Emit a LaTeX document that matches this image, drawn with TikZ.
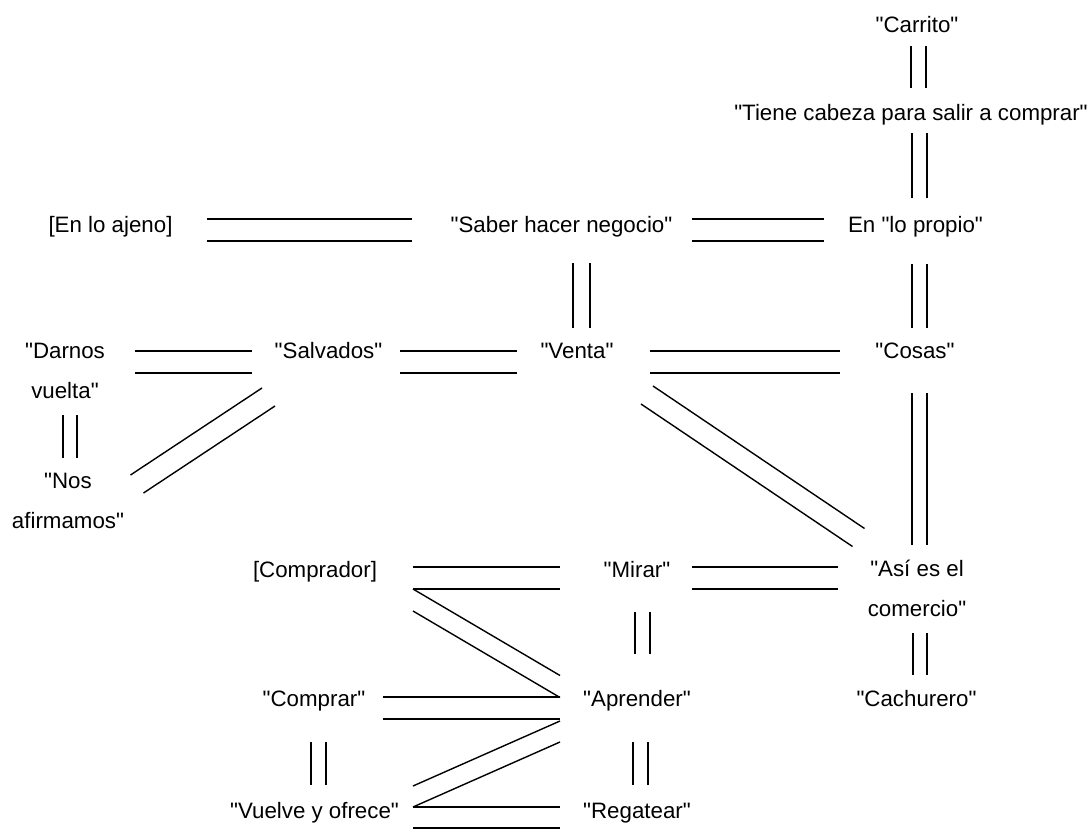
\documentclass[tikz,border=0pt]{standalone}
\usepackage{fontspec}
\setmainfont{Liberation Sans}[Ligatures=TeXOff]
\usetikzlibrary{calc}
\tikzset{
  lbl/.style={inner sep=0pt, outer sep=0pt, anchor=base, font=\fontsize{22.3}{40}\selectfont},
  lbltwo/.style={lbl, align=center},
  link/.style={line width=1.4pt, draw=black, line cap=butt},
}
\newcommand\twinlink[3]{%
  \draw[link] ($(#1)+(#3)$) -- ($(#2)+(#3)$);
  \draw[link] ($(#1)-(#3)$) -- ($(#2)-(#3)$);}
\begin{document}
\begin{tikzpicture}[x=1pt,y=-1pt]
\useasboundingbox[fill=white] (0,0) rectangle (1091,829);
% ---------- nodes ----------
\node[lbl] (carrito) at (917,33) {"Carrito"};
\node[lbl] (tiene) at (911,121) {"Tiene cabeza para salir a comprar"};
\node[lbl] (ajeno) at (110.5,232) {[En lo ajeno]};
\node[lbl] (saber) at (561.5,232) {"Saber hacer negocio"};
\node[lbl] (propio) at (915.5,232) {En "lo propio"};
\node[lbltwo] (darnos) at (65,398) {"Darnos\\vuelta"};
\node[lbl] (salvados) at (328.5,358) {"Salvados"};
\node[lbl] (venta) at (577,358) {"Venta"};
\node[lbl] (cosas) at (915,358) {"Cosas"};
\node[lbltwo] (nos) at (68,528) {"Nos\\afirmamos"};
\node[lbl] (comprador) at (315,577) {[Comprador]};
\node[lbl] (mirar) at (637,577) {"Mirar"};
\node[lbltwo] (asi) at (917,616) {"Así es el\\comercio"};
\node[lbl] (comprar) at (314,706) {"Comprar"};
\node[lbl] (aprender) at (637,706) {"Aprender"};
\node[lbl] (cachurero) at (916.5,706) {"Cachurero"};
\node[lbl] (vuelve) at (314.5,818) {"Vuelve y ofrece"};
\node[lbl] (regatear) at (637,818) {"Regatear"};
% ---------- connector ends ----------
\coordinate (ajeno-saber-a) at (207,230);   \coordinate (ajeno-saber-b) at (412,230);
\coordinate (saber-propio-a) at (692,230);  \coordinate (saber-propio-b) at (824,230);
\coordinate (darnos-salv-a) at (135,362);   \coordinate (darnos-salv-b) at (252,362);
\coordinate (salv-venta-a) at (400,362);    \coordinate (salv-venta-b) at (517,362);
\coordinate (venta-cosas-a) at (650,362);   \coordinate (venta-cosas-b) at (840,362);
\coordinate (compr-mirar-a) at (413,578);   \coordinate (compr-mirar-b) at (560,578);
\coordinate (mirar-asi-a) at (692,578);     \coordinate (mirar-asi-b) at (838,578);
\coordinate (comprar-apr-a) at (383,708);   \coordinate (comprar-apr-b) at (560,708);
\coordinate (vuelve-reg-a) at (413,817.5);  \coordinate (vuelve-reg-b) at (560,817.5);
\coordinate (carrito-tiene-a) at (918.5,46);  \coordinate (carrito-tiene-b) at (918.5,88);
\coordinate (tiene-propio-a) at (919.5,133);  \coordinate (tiene-propio-b) at (919.5,198);
\coordinate (saber-venta-a) at (581.5,263);   \coordinate (saber-venta-b) at (581.5,328);
\coordinate (propio-cosas-a) at (919.5,264);  \coordinate (propio-cosas-b) at (919.5,328);
\coordinate (cosas-asi-a) at (919.5,393);     \coordinate (cosas-asi-b) at (919.5,545);
\coordinate (darnos-nos-a) at (70,415);       \coordinate (darnos-nos-b) at (70,458);
\coordinate (mirar-apr-a) at (642.5,612);     \coordinate (mirar-apr-b) at (642.5,654);
\coordinate (asi-cach-a) at (920,633);        \coordinate (asi-cach-b) at (920,675);
\coordinate (apr-reg-a) at (640.5,742);       \coordinate (apr-reg-b) at (640.5,785);
\coordinate (comprar-vuelve-a) at (318.5,742); \coordinate (comprar-vuelve-b) at (318.5,785);
\coordinate (salv-nos-a) at (268.5,397);      \coordinate (salv-nos-b) at (137,484);
\coordinate (venta-asi-a) at (647,395);       \coordinate (venta-asi-b) at (858.5,537.5);
\coordinate (compr-apr-a) at (413,600);       \coordinate (compr-apr-b) at (560,686.5);
\coordinate (apr-vuelve-a) at (560,731.5);    \coordinate (apr-vuelve-b) at (413,796.5);
% ---------- connectors ----------
\twinlink{ajeno-saber-a}{ajeno-saber-b}{0,11}
\twinlink{saber-propio-a}{saber-propio-b}{0,11}
\twinlink{darnos-salv-a}{darnos-salv-b}{0,11}
\twinlink{salv-venta-a}{salv-venta-b}{0,11}
\twinlink{venta-cosas-a}{venta-cosas-b}{0,11}
\twinlink{compr-mirar-a}{compr-mirar-b}{0,11}
\twinlink{mirar-asi-a}{mirar-asi-b}{0,11}
\twinlink{comprar-apr-a}{comprar-apr-b}{0,11}
\twinlink{vuelve-reg-a}{vuelve-reg-b}{0,10.5}
\twinlink{carrito-tiene-a}{carrito-tiene-b}{7.5,0}
\twinlink{tiene-propio-a}{tiene-propio-b}{7.5,0}
\twinlink{saber-venta-a}{saber-venta-b}{8.5,0}
\twinlink{propio-cosas-a}{propio-cosas-b}{7.5,0}
\twinlink{cosas-asi-a}{cosas-asi-b}{7.5,0}
\twinlink{darnos-nos-a}{darnos-nos-b}{7,0}
\twinlink{mirar-apr-a}{mirar-apr-b}{7.5,0}
\twinlink{asi-cach-a}{asi-cach-b}{7,0}
\twinlink{apr-reg-a}{apr-reg-b}{7.5,0}
\twinlink{comprar-vuelve-a}{comprar-vuelve-b}{7.5,0}
\twinlink{salv-nos-a}{salv-nos-b}{6.5,9}
\twinlink{venta-asi-a}{venta-asi-b}{6,-9}
\twinlink{compr-apr-a}{compr-apr-b}{0,11}
\twinlink{apr-vuelve-a}{apr-vuelve-b}{0,10.5}
\end{tikzpicture}
\end{document}
